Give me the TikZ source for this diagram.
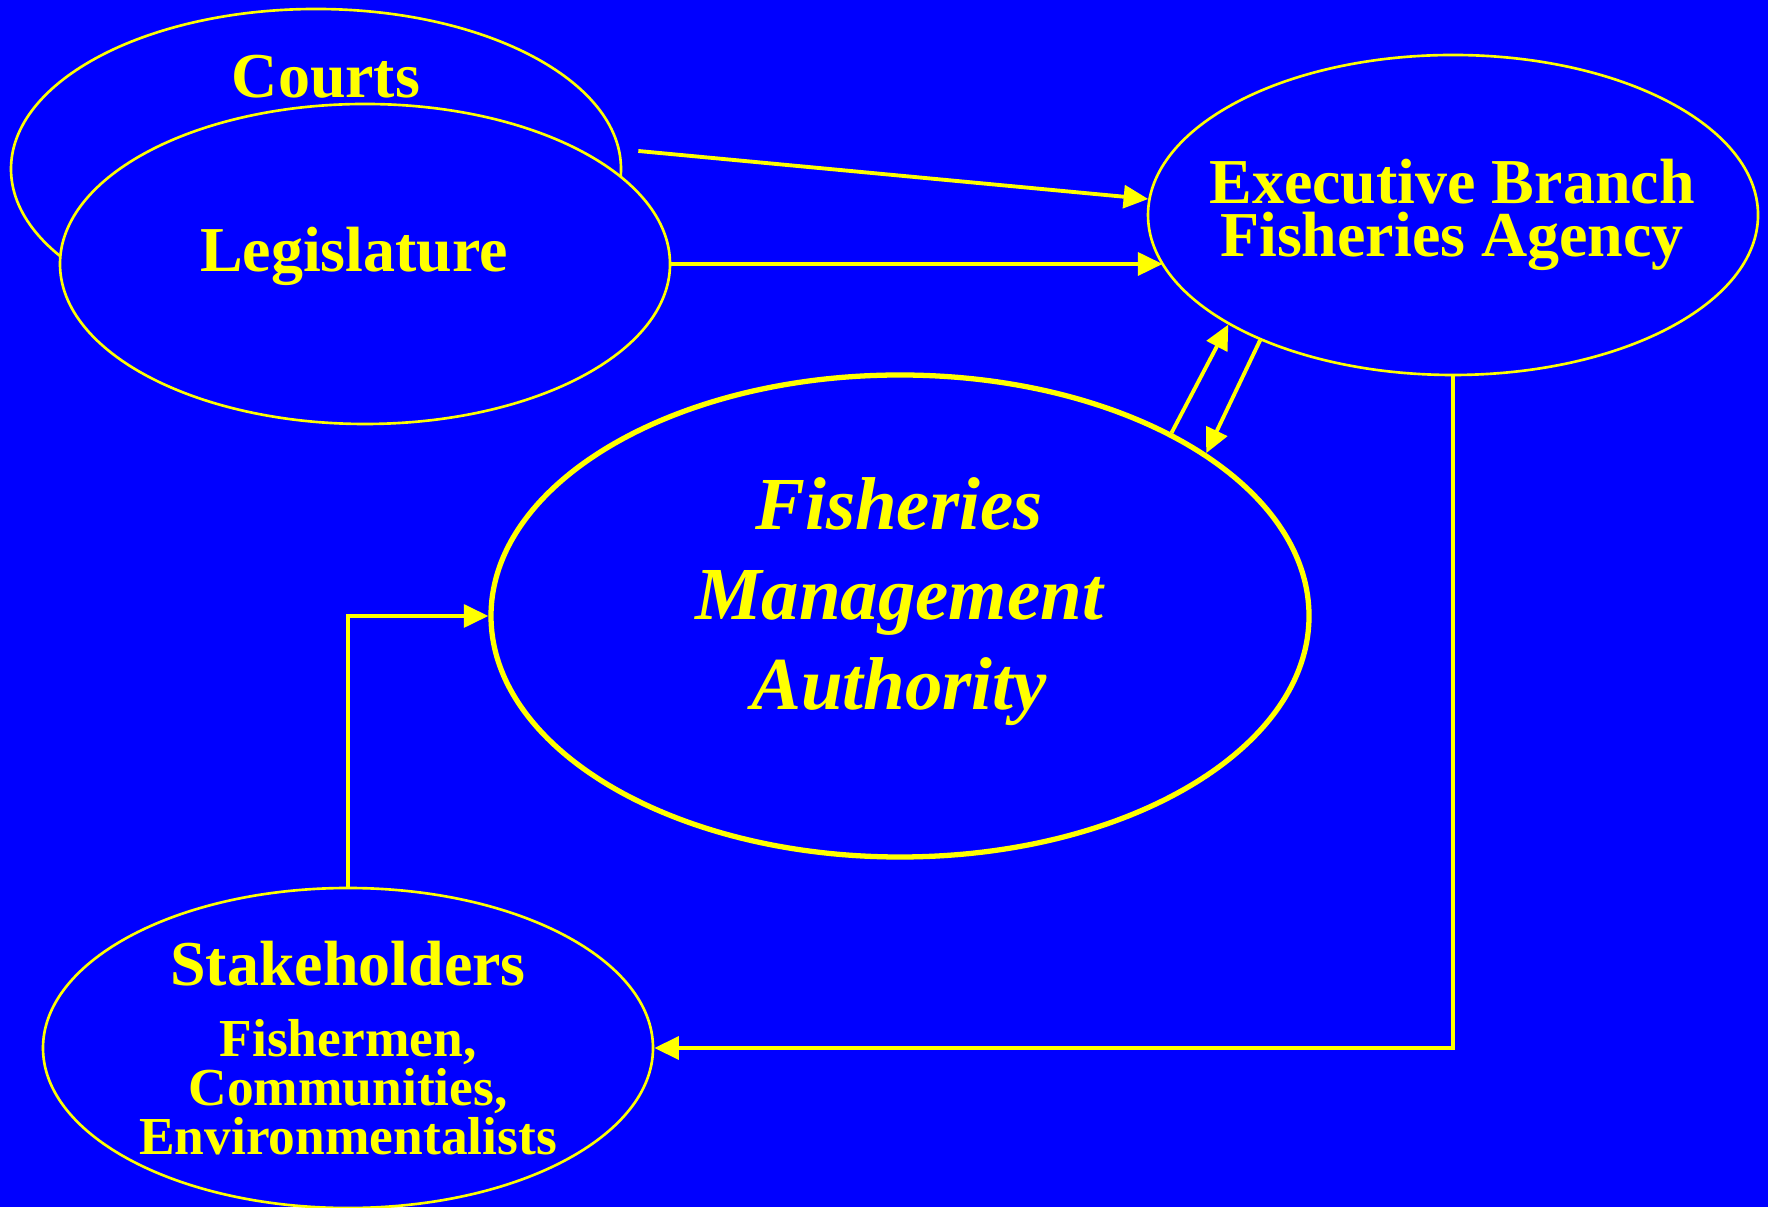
\documentclass[tikz,border=0pt]{standalone}
\usepackage{fontspec}
\setmainfont{Liberation Serif}
\usepackage{tikz}
\usetikzlibrary{arrows.meta}
\usetikzlibrary{shapes.geometric}

\definecolor{slideblue}{RGB}{0,0,255}
\definecolor{slideyellow}{RGB}{255,255,0}

\begin{document}
\begin{tikzpicture}[
    oval/.style={ellipse, draw=slideyellow, fill=slideblue, line width=0.75pt,
                 inner sep=0pt, minimum width=6.1cm, minimum height=3.2cm},
    txt/.style={text=slideyellow, align=center,
                font=\bfseries\fontsize{18.2}{15.1}\selectfont},
    flow/.style={draw=slideyellow, line width=1.1pt,
                 -{Triangle[length=7pt,width=6.5pt]}}
  ]
    \fill[slideblue] (0,0) rectangle (17.68,12.07);
    \useasboundingbox (0,0) rectangle (17.68,12.07);

    \node[oval] (courts) at (3.16, 10.38) {};
    \node[txt, anchor=base] (courtsT) at (3.26, 11.09) {Courts};

    \node[oval] (legis) at (3.65, 9.43) {};
    \node[txt, anchor=base] (legisT) at (3.54, 9.35) {Legislature};

    \node[oval] (exec) at (14.53, 9.92) {};
    \node[txt] (execT) at (14.52, 9.92) {Executive Branch\\Fisheries Agency};

    \node[oval, line width=1.5pt, minimum width=8.18cm, minimum height=4.82cm] (fma) at (9.00, 5.91) {};
    \node[txt, font=\bfseries\itshape\fontsize{21.3}{25.6}\selectfont] (fmaT) at (8.99, 6.05)
        {Fisheries\\Management\\Authority};

    \node[oval] (stake) at (3.48, 1.59) {};
    \node[txt, anchor=base] (stakeT) at (3.48, 2.22) {Stakeholders};
    \node[txt, font=\bfseries\fontsize{15.2}{12.6}\selectfont] (stakeS) at (3.48, 1.2)
        {Fishermen,\\Communities,\\Environmentalists};

    \draw[flow] ([xshift=0.16cm, yshift=0.18cm]courts.east) -- (exec.177);
    \draw[flow] (legis.east) -- (legis.east -| exec.190);
    \draw[flow] (fma.34.6) -- (exec.206.5);
    \draw[flow] (exec.213.8) -- (fma.28.8);
    \draw[flow] (exec.south) |- (stake.east);
    \draw[flow] (stake.north) |- (fma.west);

\end{tikzpicture}
\end{document}
